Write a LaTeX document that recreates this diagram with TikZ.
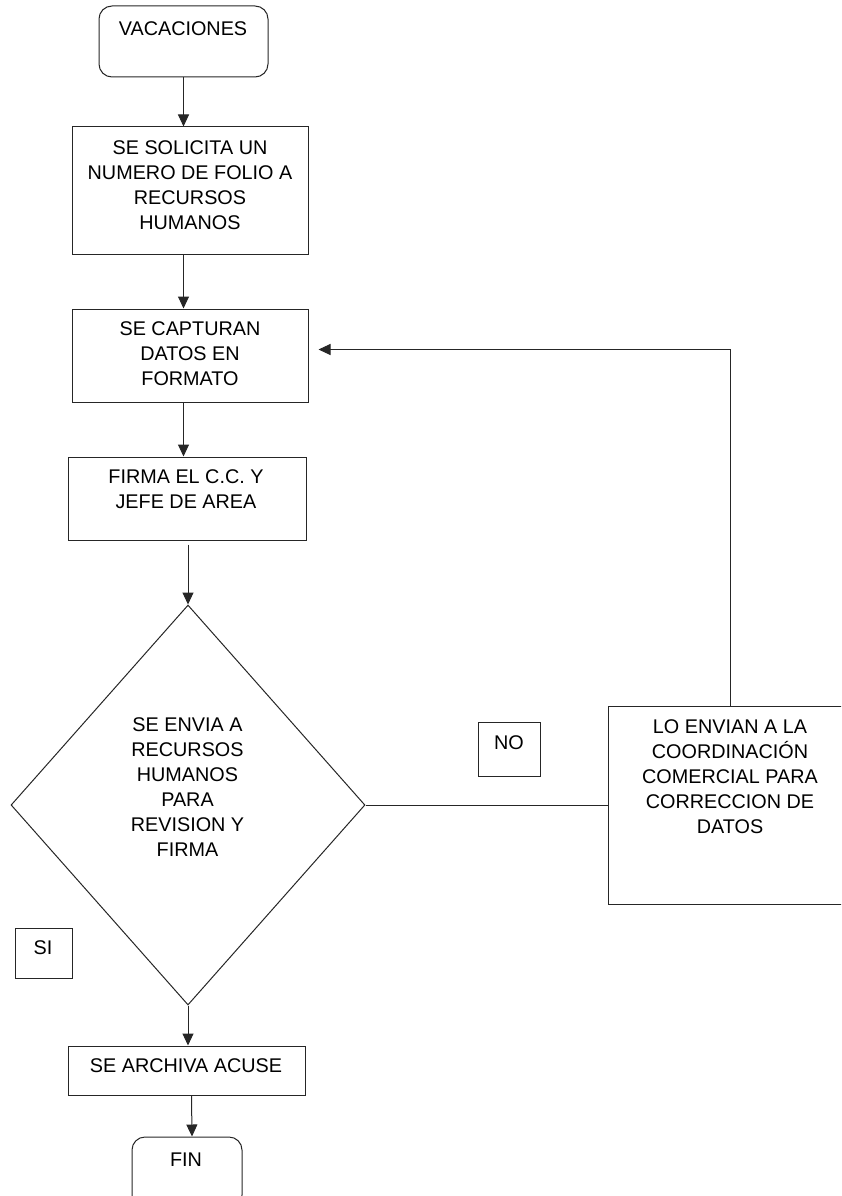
\documentclass[tikz,border=0pt]{standalone}
\usepackage{fontspec}
\setmainfont{Liberation Sans}
\usetikzlibrary{shapes.geometric, arrows.meta, calc}

\begin{document}
\begin{tikzpicture}[x=1pt, y=-1pt, line width=1pt, draw=black!85, >={Triangle[length=12pt,width=11pt]},
    box/.style={draw, rectangle, inner sep=0pt},
    term/.style={draw, rectangle, rounded corners=13pt, inner sep=0pt},
    decision/.style={draw, diamond, aspect=0.885, inner sep=0pt},
    txt/.style={align=center, inner sep=0pt, font=\fontsize{19.8}{25}\selectfont}]

    % ================= marco =================
    \useasboundingbox (0,0) rectangle (841,1196);
    \clip (0,0) rectangle (841,1196);

    % ================= cajas (Boxes) =================
    \node[term, minimum width=169pt, minimum height=71pt] (vac) at (183.5, 41.5) {};
    \node[box, minimum width=236pt, minimum height=127pt] (sol) at (190, 190.5) {};
    \node[box, minimum width=236pt, minimum height=93pt] (capt) at (190, 355.5) {};
    \node[box, minimum width=238pt, minimum height=83pt] (firma) at (187, 498.5) {};
    \node[decision, minimum width=354pt, minimum height=400pt] (dec) at (188, 805) {};
    \node[box, minimum width=62pt, minimum height=54pt] (no) at (509, 749) {};
    \node[box, minimum width=244pt, minimum height=198pt] (corr) at (730, 805) {};
    \node[box, minimum width=57pt, minimum height=50pt] (si) at (43.5, 953) {};
    \node[box, minimum width=237pt, minimum height=49pt] (arch) at (186.5, 1070.5) {};
    \node[term, minimum width=110pt, minimum height=71pt] (fin) at (187, 1172.5) {};

    % ================= textos =================
    \node[txt] (vac_t) at (183, 29) {VACACIONES};
    \node[txt] (sol_t) at (190, 185) {SE SOLICITA UN\\NUMERO DE FOLIO A\\RECURSOS\\HUMANOS};
    \node[txt] (capt_t) at (190, 354) {SE CAPTURAN\\DATOS EN\\FORMATO};
    \node[txt] (firma_t) at (186, 489) {FIRMA EL C.C. Y\\JEFE DE AREA};
    \node[txt] (dec_t) at (187.5, 787) {SE ENVIA A\\RECURSOS\\HUMANOS\\PARA\\REVISION Y\\FIRMA};
    \node[txt] (no_t) at (509, 743) {NO};
    \node[txt] (corr_t) at (730, 777) {LO ENVIAN A LA\\COORDINACIÓN\\COMERCIAL PARA\\CORRECCION DE\\DATOS};
    \node[txt] (si_t) at (43, 948) {SI};
    \node[txt] (arch_t) at (186, 1066) {SE ARCHIVA ACUSE};
    \node[txt] (fin_t) at (186, 1160) {FIN};

    % ================= conexiones =================
    \draw[->] (vac.south) -- (vac.south |- sol.north);
    \draw[->] (vac.south |- sol.south) -- (vac.south |- capt.north);
    \draw[->] (vac.south |- capt.south) -- (vac.south |- firma.north);
    \draw[->] ([yshift=-4pt]dec.north |- firma.south) -- (dec.north);
    \draw[->] (dec.south) -- (dec.south |- arch.north);
    \draw[->] ([xshift=5pt]arch.south) -- ([xshift=5pt]fin.north);

    % NO: regreso a captura
    \draw (dec.east) -- (corr.west);
    \draw[->] (corr.north) |- ([xshift=10pt, yshift=6pt]capt.east);

\end{tikzpicture}
\end{document}
